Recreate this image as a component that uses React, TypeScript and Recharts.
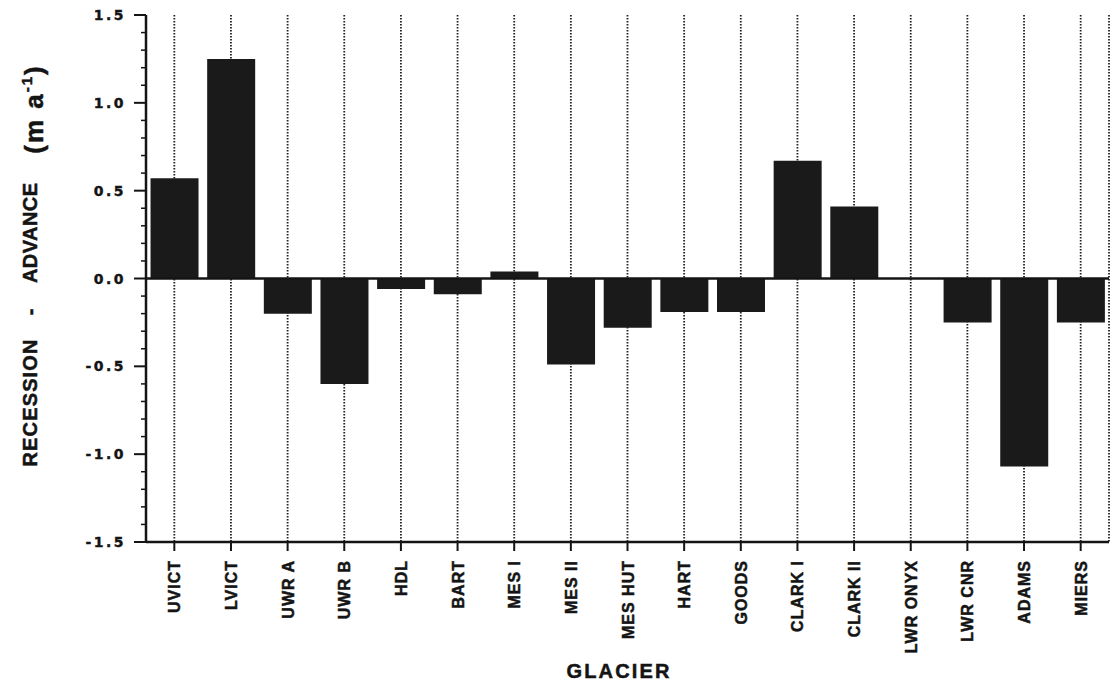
import React from 'react';
import { BarChart, Bar, XAxis, YAxis, CartesianGrid, ReferenceLine } from 'recharts';

const glaciers = [
  'UVICT', 'LVICT', 'UWR A', 'UWR B', 'HDL', 'BART', 'MES I', 'MES II', 'MES HUT',
  'HART', 'GOODS', 'CLARK I', 'CLARK II', 'LWR ONYX', 'LWR CNR', 'ADAMS', 'MIERS',
];
const rates = [
  0.57, 1.25, -0.2, -0.6, -0.06, -0.09, 0.04, -0.49, -0.28,
  -0.19, -0.19, 0.67, 0.41, 0, -0.25, -1.07, -0.25,
];
const yTicks = [
  -1.5, -1.4, -1.3, -1.2, -1.1, -1.0, -0.9, -0.8, -0.7, -0.6, -0.5, -0.4, -0.3, -0.2, -0.1, 0,
  0.1, 0.2, 0.3, 0.4, 0.5, 0.6, 0.7, 0.8, 0.9, 1.0, 1.1, 1.2, 1.3, 1.4, 1.5,
];
const majorTicks = [-1.5, -1.0, -0.5, 0, 0.5, 1.0, 1.5];

const data = glaciers.map((name, i) => ({ name, rate: rates[i] }));

const INK = '#141414';
const sans = '"Liberation Sans", Arial, sans-serif';

// y ticks every 0.1, labelled every 0.5
const YTick = (props: any) => {
  const { x, y, payload } = props;
  const v = payload.value as number;
  const major = majorTicks.some(m => Math.abs(m - v) < 1e-6);
  return (
    <g>
      <line x1={x - (major ? 12 : 5)} x2={x} y1={y} y2={y} stroke={INK} strokeWidth={major ? 2 : 1.5} />
      {major && (
        <text
          x={x - 20}
          y={y}
          dy={5}
          textAnchor="end"
          fontFamily='"DejaVu Sans", sans-serif'
          fontWeight="bold"
          fontSize={14}
          letterSpacing={2.5}
          fill={INK}
          stroke={INK}
          strokeWidth={0.4}
        >
          {v.toFixed(1)}
        </text>
      )}
    </g>
  );
};

const XTick = (props: any) => {
  const { x, y, payload } = props;
  return (
    <text
      transform={`translate(${x + 6},${y}) rotate(-90)`}
      textAnchor="end"
      fontFamily={sans}
      fontWeight="bold"
      fontSize={16}
      letterSpacing={1}
      fill={INK}
      stroke={INK}
      strokeWidth={0.5}
    >
      {payload.value}
    </text>
  );
};

export default function App() {
  return (
    <div style={{ position: 'absolute', left: 0, top: 0, width: 1120, height: 687, background: '#fff' }}>
      <BarChart
        width={1120}
        height={687}
        data={data}
        margin={{ top: 15, right: 11, left: 0, bottom: 0 }}
        barCategoryGap="8%"
      >
        <CartesianGrid
          horizontal={false}
          vertical
          stroke="#222"
          strokeWidth={1.8}
          strokeDasharray="1.5 1.5"
        />
        <XAxis
          dataKey="name"
          interval={0}
          height={145}
          tickSize={9}
          tickMargin={9}
          axisLine={{ stroke: INK, strokeWidth: 2.5 }}
          tickLine={{ stroke: INK, strokeWidth: 2 }}
          tick={<XTick />}
        />
        <XAxis
          xAxisId="top"
          orientation="top"
          dataKey="name"
          height={0}
          tick={false}
          tickLine={false}
          axisLine={{ stroke: INK, strokeWidth: 2.5 }}
        />
        <YAxis
          type="number"
          domain={[-1.5, 1.5]}
          ticks={yTicks}
          interval={0}
          width={146}
          tickSize={0}
          tickMargin={0}
          tickLine={false}
          axisLine={{ stroke: INK, strokeWidth: 2.5 }}
          tick={<YTick />}
          allowDataOverflow
        />
        <YAxis
          yAxisId="right"
          orientation="right"
          type="number"
          domain={[-1.5, 1.5]}
          width={0}
          tick={false}
          tickLine={false}
          axisLine={{ stroke: INK, strokeWidth: 2.5 }}
        />
        <Bar dataKey="rate" fill="#1a1a1a" isAnimationActive={false} />
        <ReferenceLine y={0} stroke={INK} strokeWidth={2.5} />
      </BarChart>
      <svg
        width={1120}
        height={687}
        style={{ position: 'absolute', left: 0, top: 0, pointerEvents: 'none' }}
      >
        <g fontFamily={sans} fontWeight="bold" fontSize={20} fill={INK} stroke={INK} strokeWidth={0.5}>
          <text transform="translate(37,403) rotate(-90)" textAnchor="middle" textLength={127} lengthAdjust="spacing">
            RECESSION
          </text>
          <text transform="translate(37,312) rotate(-90)" textAnchor="middle">-</text>
          <text transform="translate(37,233) rotate(-90)" textAnchor="middle" textLength={100} lengthAdjust="spacing">
            ADVANCE
          </text>
          <text transform="translate(43,109) rotate(-90)" textAnchor="middle" fontSize={26} letterSpacing={2}>
            (m a<tspan fontSize={15} dy={-11}>-1</tspan><tspan dy={11}>)</tspan>
          </text>
          <text x={618} y={678} textAnchor="middle" textLength={103} lengthAdjust="spacing">
            GLACIER
          </text>
        </g>
      </svg>
    </div>
  );
}
